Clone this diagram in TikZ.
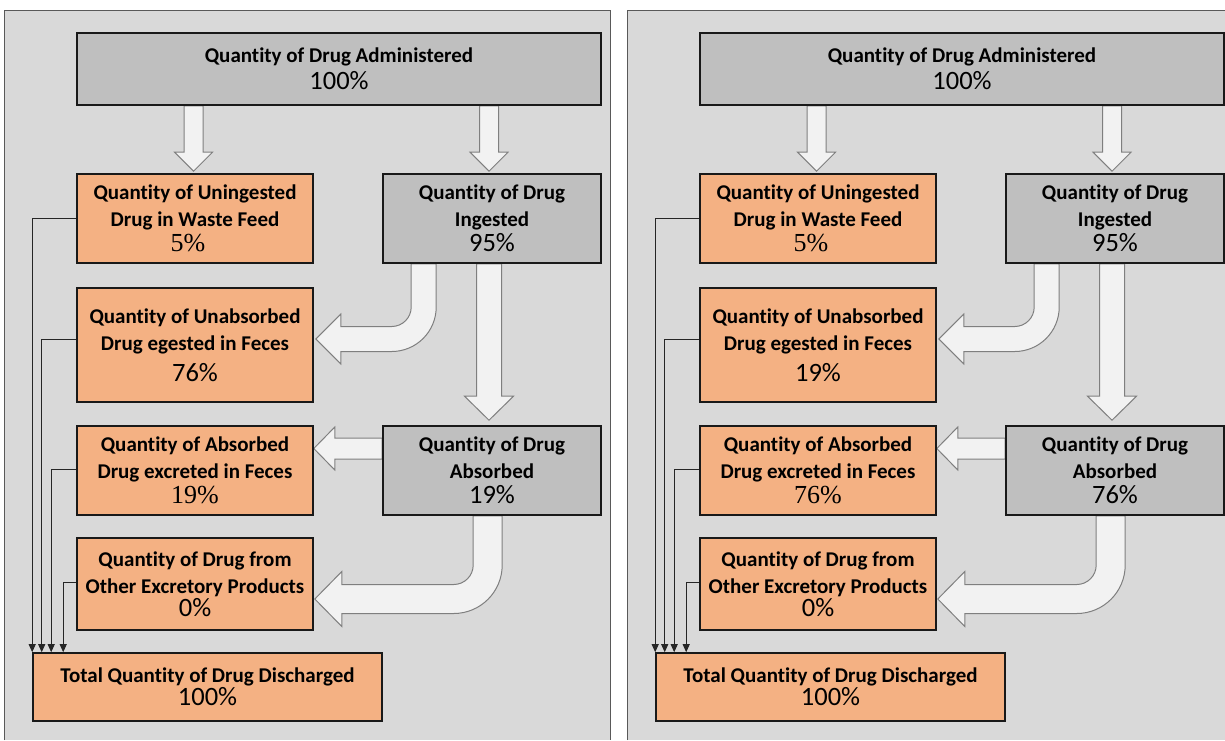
\documentclass[tikz,border=0pt]{standalone}
\usepackage{fontspec}
\setmainfont{Carlito}[Ligatures=NoCommon]
\usetikzlibrary{arrows.meta,calc}
\definecolor{panelbg}{HTML}{D9D9D9}
\definecolor{boxgray}{HTML}{BFBFBF}
\definecolor{boxorange}{HTML}{F4B183}
\definecolor{arrowfill}{HTML}{F2F2F2}
\definecolor{arrowline}{HTML}{7F7F7F}
\definecolor{panelline}{HTML}{595959}
\pgfdeclarelayer{panellayer}
\pgfdeclarelayer{arrowlayer}
\pgfsetlayers{panellayer,arrowlayer,main}
\newcommand\lbl{\bfseries\fontsize{21}{27}\selectfont}
\newcommand\pc[1]{{\mdseries\fontsize{26.5}{26.5}\selectfont #1}}
\newcommand\pcs[1]{{\fontspec{Liberation Serif}\mdseries\fontsize{26}{26}\selectfont\color{black}#1}}
\tikzset{
  box/.style={draw=black!90, line width=1.6pt, inner sep=0pt, align=center, font=\lbl},
  graybox/.style={box, fill=boxgray},
  orangebox/.style={box, fill=boxorange},
  blockarrow/.style={fill=arrowfill, draw=arrowline, line width=1pt, line join=miter},
  conn/.style={draw=black!85, line width=0.8pt, -{Triangle[length=8pt,width=7pt]}},
  panelfill/.style={fill=panelbg},
  panelborder/.style={draw=panelline, line width=1pt},
}
% down block arrow: #1 start anchor, #2 tip, #3 shaft half, #4 head half, #5 head length
\newcommand\bdown[5]{%
  \path[blockarrow] let \p1=(#1), \p2=(#2) in
   (\x2-#3pt,\y1) -- (\x2-#3pt,\y2+#5pt) -- (\x2-#4pt,\y2+#5pt) -- (\x2,\y2)
   -- (\x2+#4pt,\y2+#5pt) -- (\x2+#3pt,\y2+#5pt) -- (\x2+#3pt,\y1) -- cycle;}
% left block arrow
\newcommand\bleft[5]{%
  \path[blockarrow] let \p1=(#1), \p2=(#2) in
   (\x1,\y2+#3pt) -- (\x2+#5pt,\y2+#3pt) -- (\x2+#5pt,\y2+#4pt) -- (\x2,\y2)
   -- (\x2+#5pt,\y2-#4pt) -- (\x2+#5pt,\y2-#3pt) -- (\x1,\y2-#3pt) -- cycle;}
% bent block arrow: #1 start (shaft centre), #2 tip, #3 shaft half, #4 head half, #5 head length, #6 radius
\newcommand\bbent[6]{%
  \path[blockarrow] let \p1=(#1), \p2=(#2) in
   (\x1+#3pt,\y1) -- (\x1+#3pt,\y2+#6pt)
   arc[start angle=0,end angle=-90,radius=#6pt+#3pt]
   -- (\x2+#5pt,\y2-#3pt) -- (\x2+#5pt,\y2-#4pt) -- (\x2,\y2)
   -- (\x2+#5pt,\y2+#4pt) -- (\x2+#5pt,\y2+#3pt) -- (\x1-#6pt,\y2+#3pt)
   arc[start angle=-90,end angle=0,radius=#6pt-#3pt]
   -- (\x1-#3pt,\y1) -- cycle;}
% panel: #1 prefix, #2 shift, #3 ung, #4 ing, #5 unab, #6 absx, #7 abs
\newcommand\flowpanel[7]{%
\begin{scope}[xshift=#2pt]
  \node[graybox, minimum width=524, minimum height=72] (#1-adm) at (339,-69)
    {Quantity of Drug Administered\\\pc{100\%}};
  \node[orangebox, minimum width=236, minimum height=89] (#1-ung) at (195,-218.5)
    {Quantity of Uningested\\Drug in Waste Feed\\[-2pt]\pcs{#3}\kern14pt};
  \node[graybox, minimum width=218, minimum height=89] (#1-ing) at (492,-218.5)
    {Quantity of Drug\\Ingested\\[-2pt]\pc{#4}};
  \node[orangebox, minimum width=236, minimum height=114] (#1-unab) at (195,-345)
    {Quantity of Unabsorbed\\Drug egested in Feces\\[4pt]\pc{#5}};
  \node[orangebox, minimum width=236, minimum height=89] (#1-absx) at (195,-470.5)
    {Quantity of Absorbed\\Drug excreted in Feces\\[-2pt]\pcs{#6}};
  \node[graybox, minimum width=218, minimum height=89] (#1-abs) at (492,-470.5)
    {Quantity of Drug\\Absorbed\\[-2pt]\pc{#7}};
  \node[orangebox, minimum width=236, minimum height=92] (#1-oth) at (195,-584)
    {Quantity of Drug from\\Other Excretory Products\\[-4pt]\pc{0\%}};
  \node[orangebox, minimum width=349, minimum height=68] (#1-tot) at (207.5,-687)
    {Total Quantity of Drug Discharged\\[-4pt]\pc{100\%}};
  \begin{pgfonlayer}{arrowlayer}
    \bdown{#1-adm.south}{$(#1-ung.north)+(-1.5,2)$}{9.5}{19}{19}
    \bdown{#1-adm.south}{$(#1-ing.north)+(-3,2)$}{9.5}{19}{19}
    \bdown{#1-ing.south}{$(#1-abs.north)+(-3,5)$}{12.5}{24.5}{24}
    \bleft{#1-abs.west}{$(#1-absx.east)+(0,22)$}{10.5}{21.5}{21}
    \bbent{$(#1-ing.south west)+(41.5,0)$}{$(#1-unab.east)+(2,6)$}{12.5}{25}{25}{32}
    \bbent{$(#1-abs.south west)+(105.5,0)$}{$(#1-oth.east)+(1,-15)$}{14.5}{27.5}{27}{34}
  \end{pgfonlayer}
  \draw[conn] (#1-ung.west) -| (#1-tot.north west);
  \draw[conn] ([yshift=6pt]#1-unab.west) -| ([xshift=9.5pt]#1-tot.north west);
  \draw[conn] ([yshift=1.5pt]#1-absx.west) -| ([xshift=19pt]#1-tot.north west);
  \draw[conn] ([yshift=2pt]#1-oth.west) -| ([xshift=31pt]#1-tot.north west);
\end{scope}}

\begin{document}
\begin{tikzpicture}[x=1pt,y=1pt]
  \useasboundingbox (0,0) rectangle (1225,-740);
  \begin{pgfonlayer}{panellayer}
    \path[panelfill] (4.5,-10) rectangle (610.5,-740);
    \path[panelfill] (627.5,-10) rectangle (1225,-740);
    \draw[panelborder] (4.5,-740) -- (4.5,-10) -- (610.5,-10) -- (610.5,-740);
    \draw[panelborder] (627.5,-740) -- (627.5,-10) -- (1225,-10);
  \end{pgfonlayer}
  \flowpanel{L}{0}{5\%}{95\%}{76\%}{19\%}{19\%}
  \flowpanel{R}{623}{5\%}{95\%}{19\%}{76\%}{76\%}
\end{tikzpicture}
\end{document}
